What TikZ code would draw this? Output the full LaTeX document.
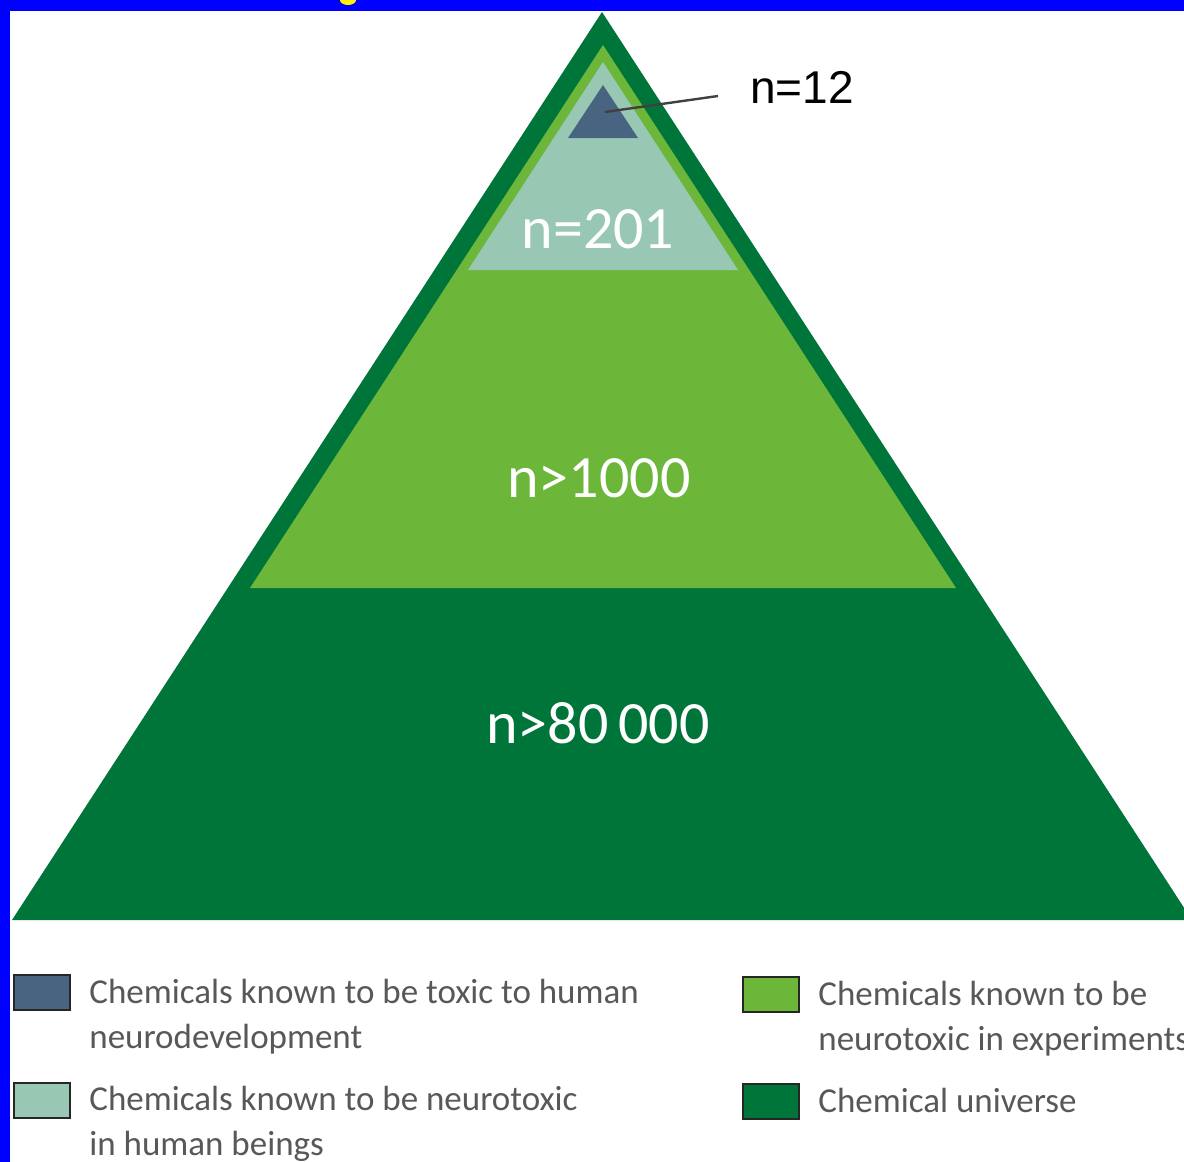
\documentclass[tikz,border=0pt]{standalone}
\usepackage{fontspec}
\setmainfont{Carlito}
\newfontfamily\arialfont{Liberation Sans}
\usetikzlibrary{positioning,calc}

\definecolor{deepgreen}{RGB}{0,117,58}
\definecolor{leafgreen}{RGB}{108,182,58}
\definecolor{sagegreen}{RGB}{152,200,180}
\definecolor{slatetone}{RGB}{72,100,128}
\definecolor{legendgray}{RGB}{88,88,88}

\begin{document}
\begin{tikzpicture}[x=0.5pt,y=-0.5pt,
  tierlbl/.style={text=white, inner sep=0pt, font=\fontsize{30}{36}\selectfont},
  keybox/.style={draw=black!85, line width=1pt, minimum width=28pt, minimum height=17.5pt, inner sep=0pt},
  keytext/.style={text=legendgray, align=left, inner sep=0pt, font=\fontsize{17.5}{22.5}\selectfont},
  leadline/.style={draw=black!75, line width=1.2pt}]
\useasboundingbox (0,0) rectangle (1184,1162);

% Frame
\fill[white] (0,0) rectangle (1184,1162);
\fill[blue] (0,0) rectangle (1184,11);
\fill[blue] (0,0) rectangle (10,1162);
\fill[yellow] (348,0) ellipse (8 and 5);

% Pyramid layers
\fill[deepgreen] (602,12) -- (1192,920) -- (12,920) -- cycle;
\fill[leafgreen] (603,45) -- (956,588) -- (250,588) -- cycle;
\fill[sagegreen] (603,62) -- (738,270) -- (468,270) -- cycle;
\fill[slatetone] (603,85) -- (638,138) -- (568,138) -- cycle;

% Counts
\node[tierlbl] (n201) at (598,229) {n=201};
\node[tierlbl] (n1000) at (599,478) {n>1000};
\node[tierlbl] (n80000) at (598,723) {n>80\,000};

% Top label with leader
\coordinate (tip) at (605,112);
\coordinate (lead) at (718,96);
\node[anchor=west, inner sep=0pt, font=\arialfont\fontsize{23}{28}\selectfont] (n12) at (750,87) {n=12};
\draw[leadline] (tip) -- (lead);

% Legend
\node[keybox, fill=slatetone] (keyA) at (42,992) {};
\node[keytext, anchor=north west] (txtA) at (89,979) {Chemicals known to be toxic to human\\neurodevelopment};
\node[keybox, fill=sagegreen] (keyB) at (42,1100) {};
\node[keytext, anchor=north west] (txtB) at (89,1086) {Chemicals known to be neurotoxic\\in human beings};
\node[keybox, fill=leafgreen] (keyC) at (771,994) {};
\node[keytext, anchor=north west] (txtC) at (818,981) {Chemicals known to be\\neurotoxic in experiments};
\node[keybox, fill=deepgreen] (keyD) at (771,1101) {};
\node[keytext, anchor=north west] (txtD) at (818,1088) {Chemical universe};

\end{tikzpicture}
\end{document}
